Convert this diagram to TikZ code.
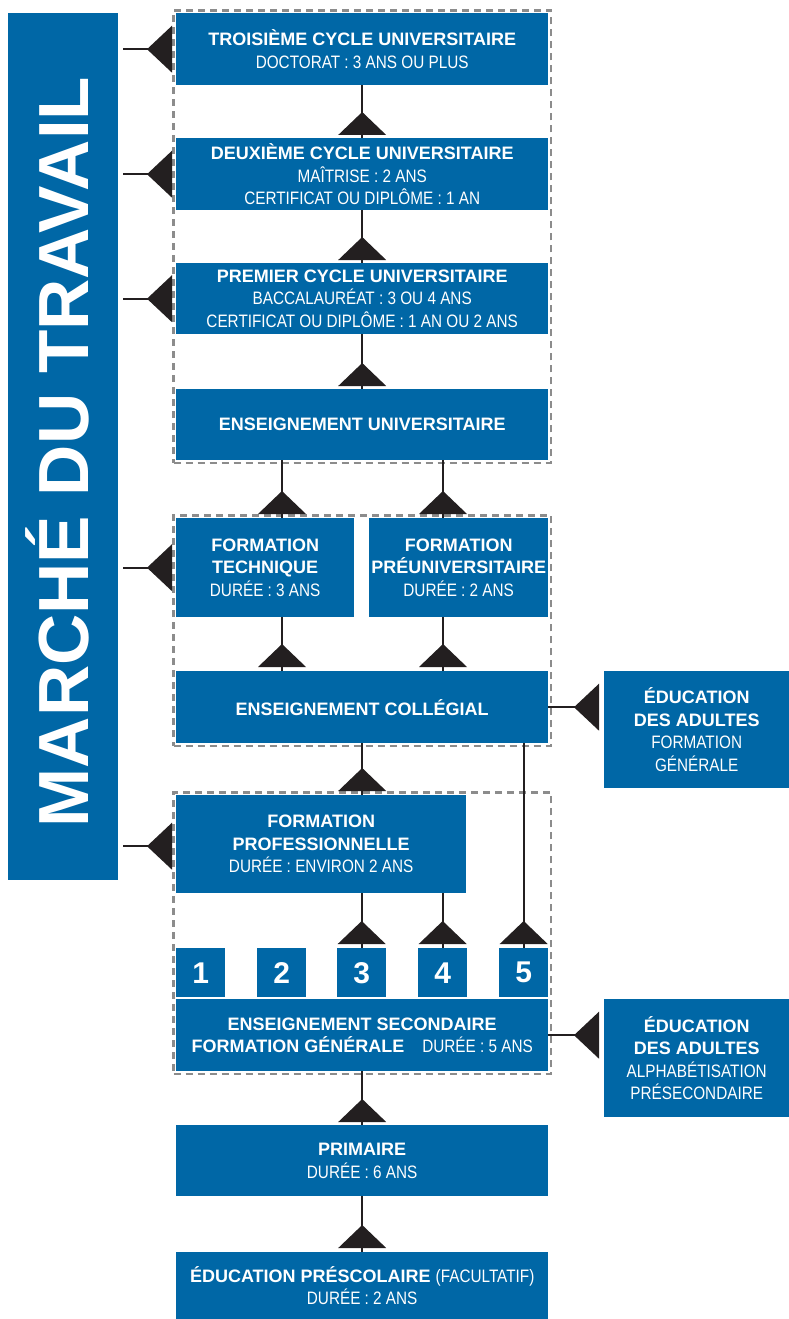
\documentclass[tikz,border=0pt]{standalone}
\usepackage{fontspec}
\setmainfont{Liberation Sans}
\newfontfamily\condf{Liberation Sans}[FakeStretch=0.85]
\usetikzlibrary{calc,fit}
\definecolor{boxblue}{RGB}{0,103,166}
\definecolor{ink}{RGB}{35,31,32}
\definecolor{dashgray}{RGB}{140,140,140}
\newcommand{\subt}[1]{{\condf\mdseries\fontsize{18}{22.5}\selectfont #1}}
\tikzset{
  bluebox/.style={fill=boxblue, text=white, inner sep=0pt, anchor=north west,
    align=center, font=\bfseries\fontsize{18}{22.5}\selectfont},
  numbox/.style={bluebox, minimum width=49pt, minimum height=49pt,
    font=\bfseries\fontsize{30}{30}\selectfont},
  group/.style={draw=dashgray, line width=2.2pt, dash pattern=on 7pt off 5pt, inner sep=2.5pt},
  conn/.style={draw=ink, line width=1.6pt},
  uptri/.pic={\fill[ink] (-24,0) -- (24,0) -- (0,-23) -- cycle;},
  lefttri/.pic={\fill[ink] (0,-23.5) -- (0,23.5) -- (-25,0) -- cycle;}
}
\begin{document}
\begin{tikzpicture}[x=1pt,y=-1pt]
\fill[white] (0,0) rectangle (789,1319);
\useasboundingbox (0,0) rectangle (789,1319);

% left bar
\node[fill=boxblue, anchor=north west, minimum width=110pt, minimum height=867pt, inner sep=0] (bar) at (8,13) {};
\node[text=white, rotate=90, inner sep=0, text height=51pt, text depth=0pt,
      font=\bfseries\fontsize{71}{71}\selectfont] (mt) at (63,452) {MARCHÉ DU TRAVAIL};

% boxes
\node[bluebox, minimum width=372pt, minimum height=72pt] (t3) at (176,13)
  {TROISIÈME CYCLE UNIVERSITAIRE\\ \subt{DOCTORAT : 3 ANS OU PLUS}};
\node[bluebox, minimum width=372pt, minimum height=72pt] (d2) at (176,138)
  {DEUXIÈME CYCLE UNIVERSITAIRE\\ \subt{MAÎTRISE : 2 ANS}\\ \subt{CERTIFICAT OU DIPLÔME : 1 AN}};
\node[bluebox, minimum width=372pt, minimum height=71pt] (p1) at (176,263)
  {PREMIER CYCLE UNIVERSITAIRE\\ \subt{BACCALAURÉAT : 3 OU 4 ANS}\\ \subt{CERTIFICAT OU DIPLÔME : 1 AN OU 2 ANS}};
\node[bluebox, minimum width=372pt, minimum height=71pt] (univ) at (176,389)
  {ENSEIGNEMENT UNIVERSITAIRE};
\node[bluebox, minimum width=178pt, minimum height=99pt] (ftech) at (176,518)
  {FORMATION\\ TECHNIQUE\\ \subt{DURÉE : 3 ANS}};
\node[bluebox, minimum width=179pt, minimum height=99pt] (fpreu) at (369,518)
  {FORMATION\\ PRÉUNIVERSITAIRE\\ \subt{DURÉE : 2 ANS}};
\node[bluebox, minimum width=372pt, minimum height=72pt] (coll) at (176,671)
  {ENSEIGNEMENT COLLÉGIAL};
\node[bluebox, minimum width=290pt, minimum height=98pt] (fprof) at (176,795)
  {FORMATION\\ PROFESSIONNELLE\\ \subt{DURÉE : ENVIRON 2 ANS}};
\node[numbox] (n1) at (176,948) {1};
\node[numbox] (n2) at (257,948) {2};
\node[numbox] (n3) at (337,948) {3};
\node[numbox] (n4) at (418,948) {4};
\node[numbox] (n5) at (499,948) {5};
\node[bluebox, minimum width=372pt, minimum height=72pt] (sec) at (176,999)
  {ENSEIGNEMENT SECONDAIRE\\ FORMATION GÉNÉRALE\quad\subt{DURÉE : 5 ANS}};
\node[bluebox, minimum width=372pt, minimum height=71pt] (prim) at (176,1125)
  {PRIMAIRE\\ \subt{DURÉE : 6 ANS}};
\node[bluebox, minimum width=372pt, minimum height=67pt] (pres) at (176,1252)
  {ÉDUCATION PRÉSCOLAIRE \subt{(FACULTATIF)}\\ \subt{DURÉE : 2 ANS}};
\node[bluebox, minimum width=185pt, minimum height=117pt] (ad1) at (604,671)
  {ÉDUCATION\\ DES ADULTES\\ \subt{FORMATION}\\ \subt{GÉNÉRALE}};
\node[bluebox, minimum width=185pt, minimum height=118pt] (ad2) at (604,999)
  {ÉDUCATION\\ DES ADULTES\\ \subt{ALPHABÉTISATION}\\ \subt{PRÉSECONDAIRE}};

% dashed groups
\node[group, fit=(t3)(univ)] (g1) {};
\node[group, fit=(ftech)(fpreu)(coll)] (g2) {};
\node[group, fit=(fprof)(n1)(sec)] (g3) {};

% column coordinates
\coordinate (cL) at (282,0);
\coordinate (cR) at (443,0);

% vertical connectors
\draw[conn] (t3) -- (d2);
\pic at ($(d2.north)+(0,-3)$) {uptri};
\draw[conn] (d2) -- (p1);
\pic at ($(p1.north)+(0,-3)$) {uptri};
\draw[conn] (p1) -- (univ);
\pic at ($(univ.north)+(0,-3)$) {uptri};

\draw[conn] (univ.south -| cL) -- (ftech.north -| cL);
\pic at ($(ftech.north -| cL)+(0,-4)$) {uptri};
\draw[conn] (univ.south -| cR) -- (fpreu.north -| cR);
\pic at ($(fpreu.north -| cR)+(0,-4)$) {uptri};

\draw[conn] (ftech.south -| cL) -- (coll.north -| cL);
\pic at ($(coll.north -| cL)+(0,-4)$) {uptri};
\draw[conn] (fpreu.south -| cR) -- (coll.north -| cR);
\pic at ($(coll.north -| cR)+(0,-4)$) {uptri};

\draw[conn] (coll.south) -- (coll.south |- fprof.north);
\pic at ($(coll.south |- fprof.north)+(0,-4)$) {uptri};

\draw[conn] (n3.north |- fprof.south) -- (n3.north);
\pic at ($(n3.north)+(0,-4)$) {uptri};
\draw[conn] (n4.north |- fprof.south) -- (n4.north);
\pic at ($(n4.north)+(0,-4)$) {uptri};
\draw[conn] (n5.north |- coll.south) -- (n5.north);
\pic at ($(n5.north)+(0,-4)$) {uptri};

\draw[conn] (sec) -- (prim);
\pic at ($(prim.north)+(0,-3)$) {uptri};
\draw[conn] (prim) -- (pres);
\pic at ($(pres.north)+(0,-4)$) {uptri};

% arrows to the labour market bar
\foreach \b in {t3,d2,p1,ftech}{
  \draw[conn] ($(bar.east |- \b.west)+(5,0)$) -- ($(\b.west)+(-20,0)$);
  \pic at ($(\b.west)+(-4,0)$) {lefttri};
}
\coordinate (fpa) at ($(fprof.west)+(0,2)$);
\draw[conn] ($(bar.east |- fpa)+(5,0)$) -- ($(fpa)+(-20,0)$);
\pic at ($(fpa)+(-4,0)$) {lefttri};

% adult education arrows
\draw[conn] (coll.east) -- ($(ad1.west |- coll.east)+(-20,0)$);
\pic at ($(ad1.west |- coll.east)+(-5,0)$) {lefttri};
\draw[conn] (sec.east) -- ($(ad2.west |- sec.east)+(-20,0)$);
\pic at ($(ad2.west |- sec.east)+(-5,0)$) {lefttri};
\end{tikzpicture}
\end{document}
